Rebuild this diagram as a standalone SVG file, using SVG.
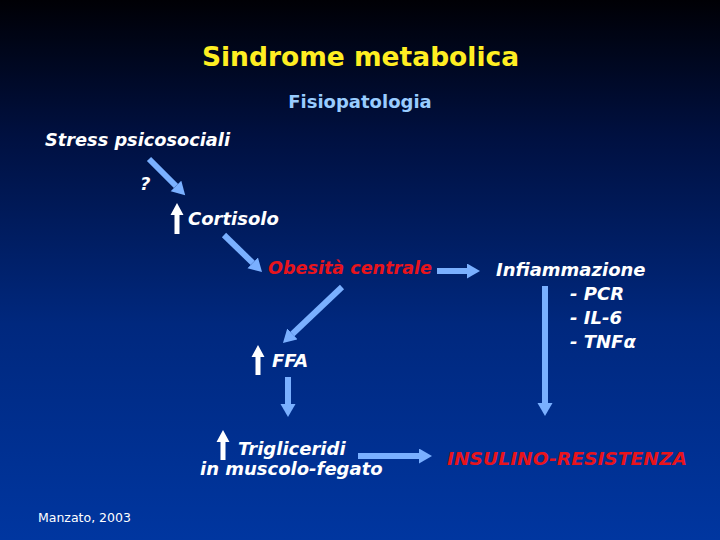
<svg xmlns="http://www.w3.org/2000/svg" width="720" height="540" viewBox="0 0 720 540">
<defs>
<linearGradient id="bg" x1="0" y1="0" x2="0" y2="1">
<stop offset="0" stop-color="#000005"/>
<stop offset="0.25" stop-color="#001040"/>
<stop offset="0.6" stop-color="#00287e"/>
<stop offset="1" stop-color="#0036a0"/>
</linearGradient>
<marker id="ah" markerUnits="userSpaceOnUse" markerWidth="14" markerHeight="16" refX="0" refY="7.5" orient="auto">
<path d="M0,0 L13,7.5 L0,15 z" fill="#7ab0ff"/>
</marker>
<style>
.t{font-family:"DejaVu Sans",Verdana,sans-serif;font-weight:bold;font-style:italic;font-size:18px;fill:#ffffff}
.red{fill:#e8141c}
.c line{stroke:#7ab0ff;stroke-width:6;marker-end:url(#ah)}
.up{fill:#ffffff}
</style>
</defs>
<rect width="720" height="540" fill="url(#bg)"/>
<text x="360.5" y="66" text-anchor="middle" font-family="DejaVu Sans, Verdana, sans-serif" font-weight="bold" font-size="26.5" fill="#ffee22">Sindrome metabolica</text>
<text x="360" y="108" text-anchor="middle" font-family="DejaVu Sans, Verdana, sans-serif" font-weight="bold" font-size="18" fill="#99ccff">Fisiopatologia</text>
<g id="connectors" class="c">
<line x1="149" y1="159" x2="176" y2="186"/>
<line x1="224" y1="235" x2="252.7" y2="262.9"/>
<line x1="437" y1="271" x2="467" y2="271"/>
<line x1="342" y1="287" x2="292.4" y2="334"/>
<line x1="288" y1="377" x2="288" y2="404"/>
<line x1="545" y1="286" x2="545" y2="403"/>
<line x1="358" y1="456" x2="419" y2="456"/>
</g>
<g id="stress"><text class="t" x="45" y="146" textLength="185" lengthAdjust="spacingAndGlyphs">Stress psicosociali</text></g>
<g id="question"><text class="t" x="140" y="190">?</text></g>
<g id="cortisolo">
<polygon class="up" points="177,203 183.5,215 179.5,215 179.5,234 174.5,234 174.5,215 170.5,215"/>
<text class="t" x="188" y="225">Cortisolo</text>
</g>
<g id="obesita"><text class="t red" x="268" y="274" textLength="164" lengthAdjust="spacingAndGlyphs">Obesità centrale</text></g>
<g id="infiammazione">
<text class="t" x="496" y="276">Infiammazione</text>
<text class="t" x="570" y="300">- PCR</text>
<text class="t" x="570" y="324">- IL-6</text>
<text class="t" x="570" y="348">- TNFα</text>
</g>
<g id="ffa">
<polygon class="up" points="258,345 264.5,357 260.5,357 260.5,375 255.5,375 255.5,357 251.5,357"/>
<text class="t" x="272" y="367" font-size="17">FFA</text>
</g>
<g id="trigliceridi">
<polygon class="up" points="223,430 229.5,442 225.5,442 225.5,460 220.5,460 220.5,442 216.5,442"/>
<text class="t" x="238" y="455">Trigliceridi</text>
<text class="t" x="200" y="475">in muscolo-fegato</text>
</g>
<g id="insulino"><text class="t red" x="447" y="465" textLength="240" lengthAdjust="spacingAndGlyphs">INSULINO-RESISTENZA</text></g>
<text x="38" y="522" font-family="DejaVu Sans, Verdana, sans-serif" font-size="12.5" fill="#ffffff">Manzato, 2003</text>
</svg>
